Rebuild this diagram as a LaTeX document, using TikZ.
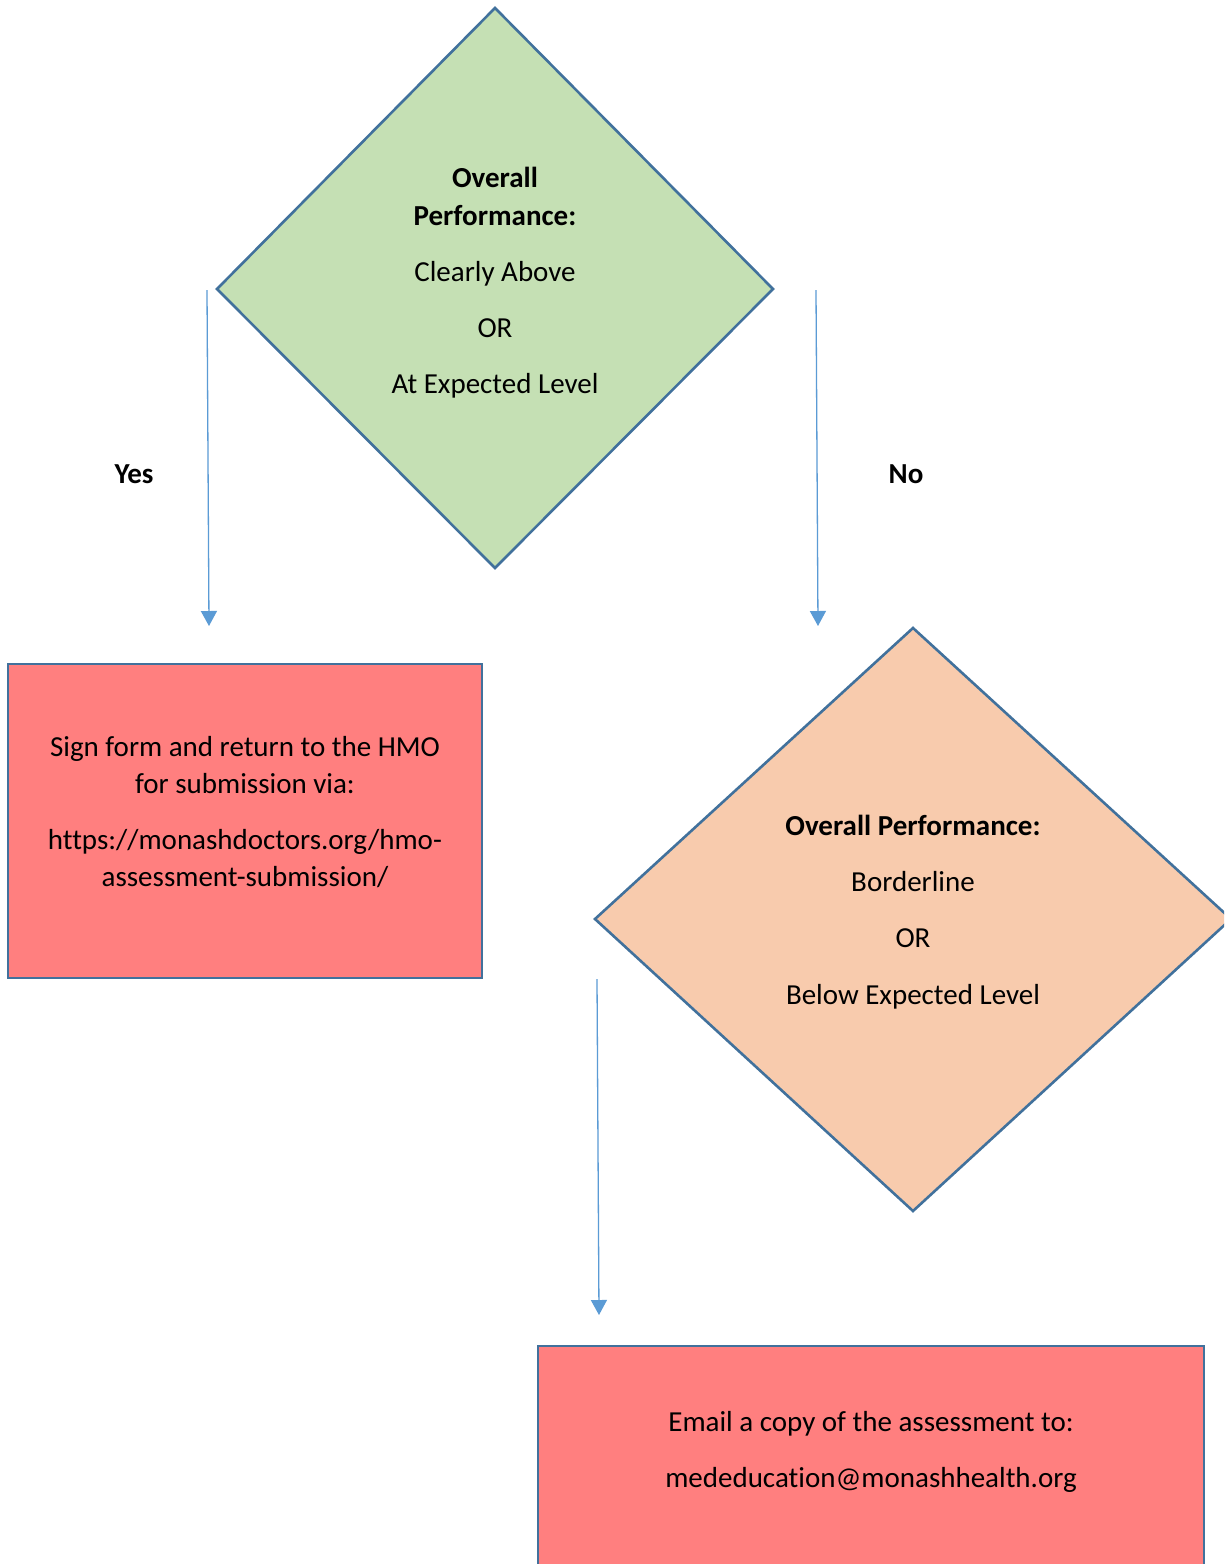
\documentclass[tikz,border=0pt]{standalone}
\usepackage{fontspec}
\setmainfont[RawFeature={-liga;-clig;-dlig}]{Carlito}
\usetikzlibrary{arrows.meta}
\definecolor{edgeblue}{HTML}{41719C}
\definecolor{arrowblue}{HTML}{5B9BD5}
\definecolor{greenfill}{HTML}{C5E0B4}
\definecolor{orangefill}{HTML}{F8CBAD}
\definecolor{redfill}{HTML}{FF7F7F}
\tikzset{
  shapeedge/.style={draw=edgeblue, line width=2.6pt, line join=miter},
  flowarrow/.style={draw=arrowblue, line width=1.3pt, -{Triangle[width=16pt,length=15pt]}},
  txt/.style={font=\fontsize{29}{34}\selectfont, inner sep=0pt, anchor=base},
  btxt/.style={txt, font=\fontsize{29}{34}\selectfont\bfseries},
}
\begin{document}
\begin{tikzpicture}[x=1pt,y=-1pt]
\useasboundingbox (0,0) rectangle (1224,1564);
\clip (0,0) rectangle (1224,1564);
\fill[white] (0,0) rectangle (1224,1564);
% green diamond
\path[shapeedge, fill=greenfill] (495,8) -- (773,289) -- (495,568) -- (217,289) -- cycle;
\node[btxt] (g1) at (495,187) {Overall};
\node[btxt] (g2) at (495,225) {Performance:};
\node[txt] (g3) at (495,281) {Clearly Above};
\node[txt] (g4) at (495,337) {OR};
\node[txt] (g5) at (495,393) {At Expected Level};
% labels
\node[btxt] (yes) at (134,483) {Yes};
\node[btxt] (no) at (906,483) {No};
% arrows
\coordinate (a1s) at (207,290);
\coordinate (a1e) at (209,626);
\coordinate (a2s) at (816,290);
\coordinate (a2e) at (818,626);
\coordinate (a3s) at (597,979);
\coordinate (a3e) at (599,1315);
\draw[flowarrow] (a1s) -- (a1e);
\draw[flowarrow] (a2s) -- (a2e);
\draw[flowarrow] (a3s) -- (a3e);
% red box 1
\path[shapeedge, fill=redfill] (8,664) rectangle (482,978);
\node[txt] (r1) at (245,756) {Sign form and return to the HMO};
\node[txt] (r2) at (245,793) {for submission via:};
\node[txt] (r3) at (245,849) {https://monashdoctors.org/hmo-};
\node[txt] (r4) at (245,886) {assessment-submission/};
% orange diamond
\path[shapeedge, fill=orangefill] (913,628) -- (1231,919) -- (913,1211) -- (595,919) -- cycle;
\node[btxt] (o1) at (913,835) {Overall Performance:};
\node[txt] (o2) at (913,891) {Borderline};
\node[txt] (o3) at (913,947) {OR};
\node[txt] (o4) at (913,1004) {Below Expected Level};
% red box 2
\path[shapeedge, fill=redfill] (538,1346) rectangle (1204,1600);
\node[txt] (e1) at (871,1431) {Email a copy of the assessment to:};
\node[txt] (e2) at (871,1487) {mededucation@monashhealth.org};
\end{tikzpicture}
\end{document}
